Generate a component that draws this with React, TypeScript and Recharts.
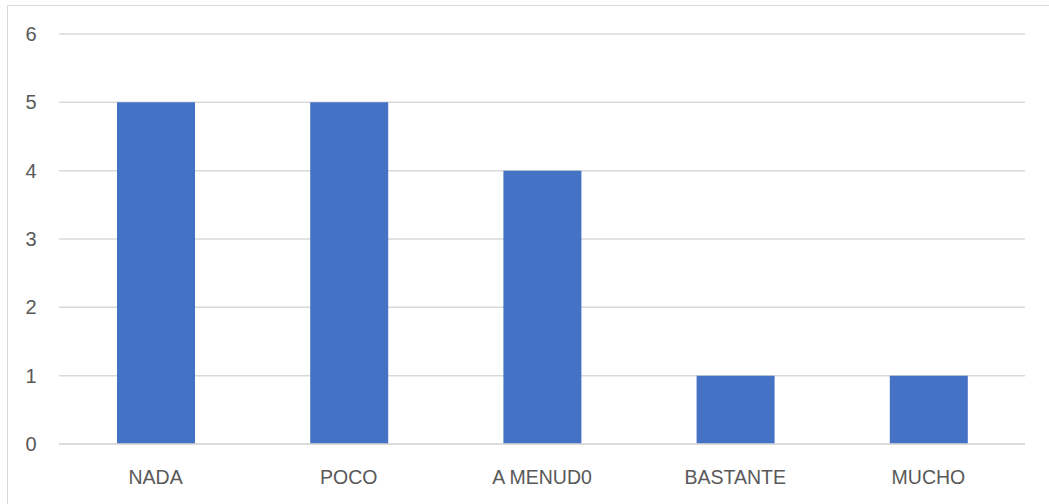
import { BarChart, Bar, XAxis, YAxis, CartesianGrid } from 'recharts';

const categories = ['NADA', 'POCO', 'A MENUD0', 'BASTANTE', 'MUCHO'];
const counts = [5, 5, 4, 1, 1];
const yTicks = [0, 1, 2, 3, 4, 5, 6];

const data = categories.map((c, i) => ({ cat: c, value: counts[i] }));

const FONT = '"Liberation Sans", Arial, sans-serif';

const YTick = ({ y, payload }: any) => (
  <text x={31} y={y} dy={7} textAnchor="middle" fill="#595959" fontSize={20} fontFamily={FONT}>
    {payload.value}
  </text>
);

const XTick = ({ x, y, payload }: any) => (
  <text x={x} y={y + 32} textAnchor="middle" fill="#595959" fontSize={19.5} fontFamily={FONT}>
    {payload.value}
  </text>
);

export default function App() {
  return (
    <div style={{ position: 'fixed', left: 0, top: 0, width: 1049, height: 504, background: '#fff', overflow: 'hidden' }}>
      <div
        style={{
          position: 'absolute',
          left: 7,
          top: 5,
          width: 1060,
          height: 520,
          border: '1px solid #d9d9d9',
          boxSizing: 'border-box',
        }}
      />
      <div style={{ position: 'absolute', left: 0, top: 0 }}>
        <BarChart width={1049} height={504} data={data} margin={{ top: 34, right: 24, left: 0, bottom: 0 }}>
          <CartesianGrid vertical={false} stroke="#d9d9d9" strokeWidth={1.5} />
          <XAxis
            dataKey="cat"
            height={60}
            axisLine={{ stroke: '#d9d9d9', strokeWidth: 1.5 }}
            tickLine={false}
            tick={<XTick />}
            interval={0}
          />
          <YAxis
            width={59}
            domain={[0, 6]}
            ticks={yTicks}
            axisLine={false}
            tickLine={false}
            tick={<YTick />}
          />
          <Bar dataKey="value" fill="#4472c4" barSize={78} isAnimationActive={false} />
        </BarChart>
      </div>
    </div>
  );
}
